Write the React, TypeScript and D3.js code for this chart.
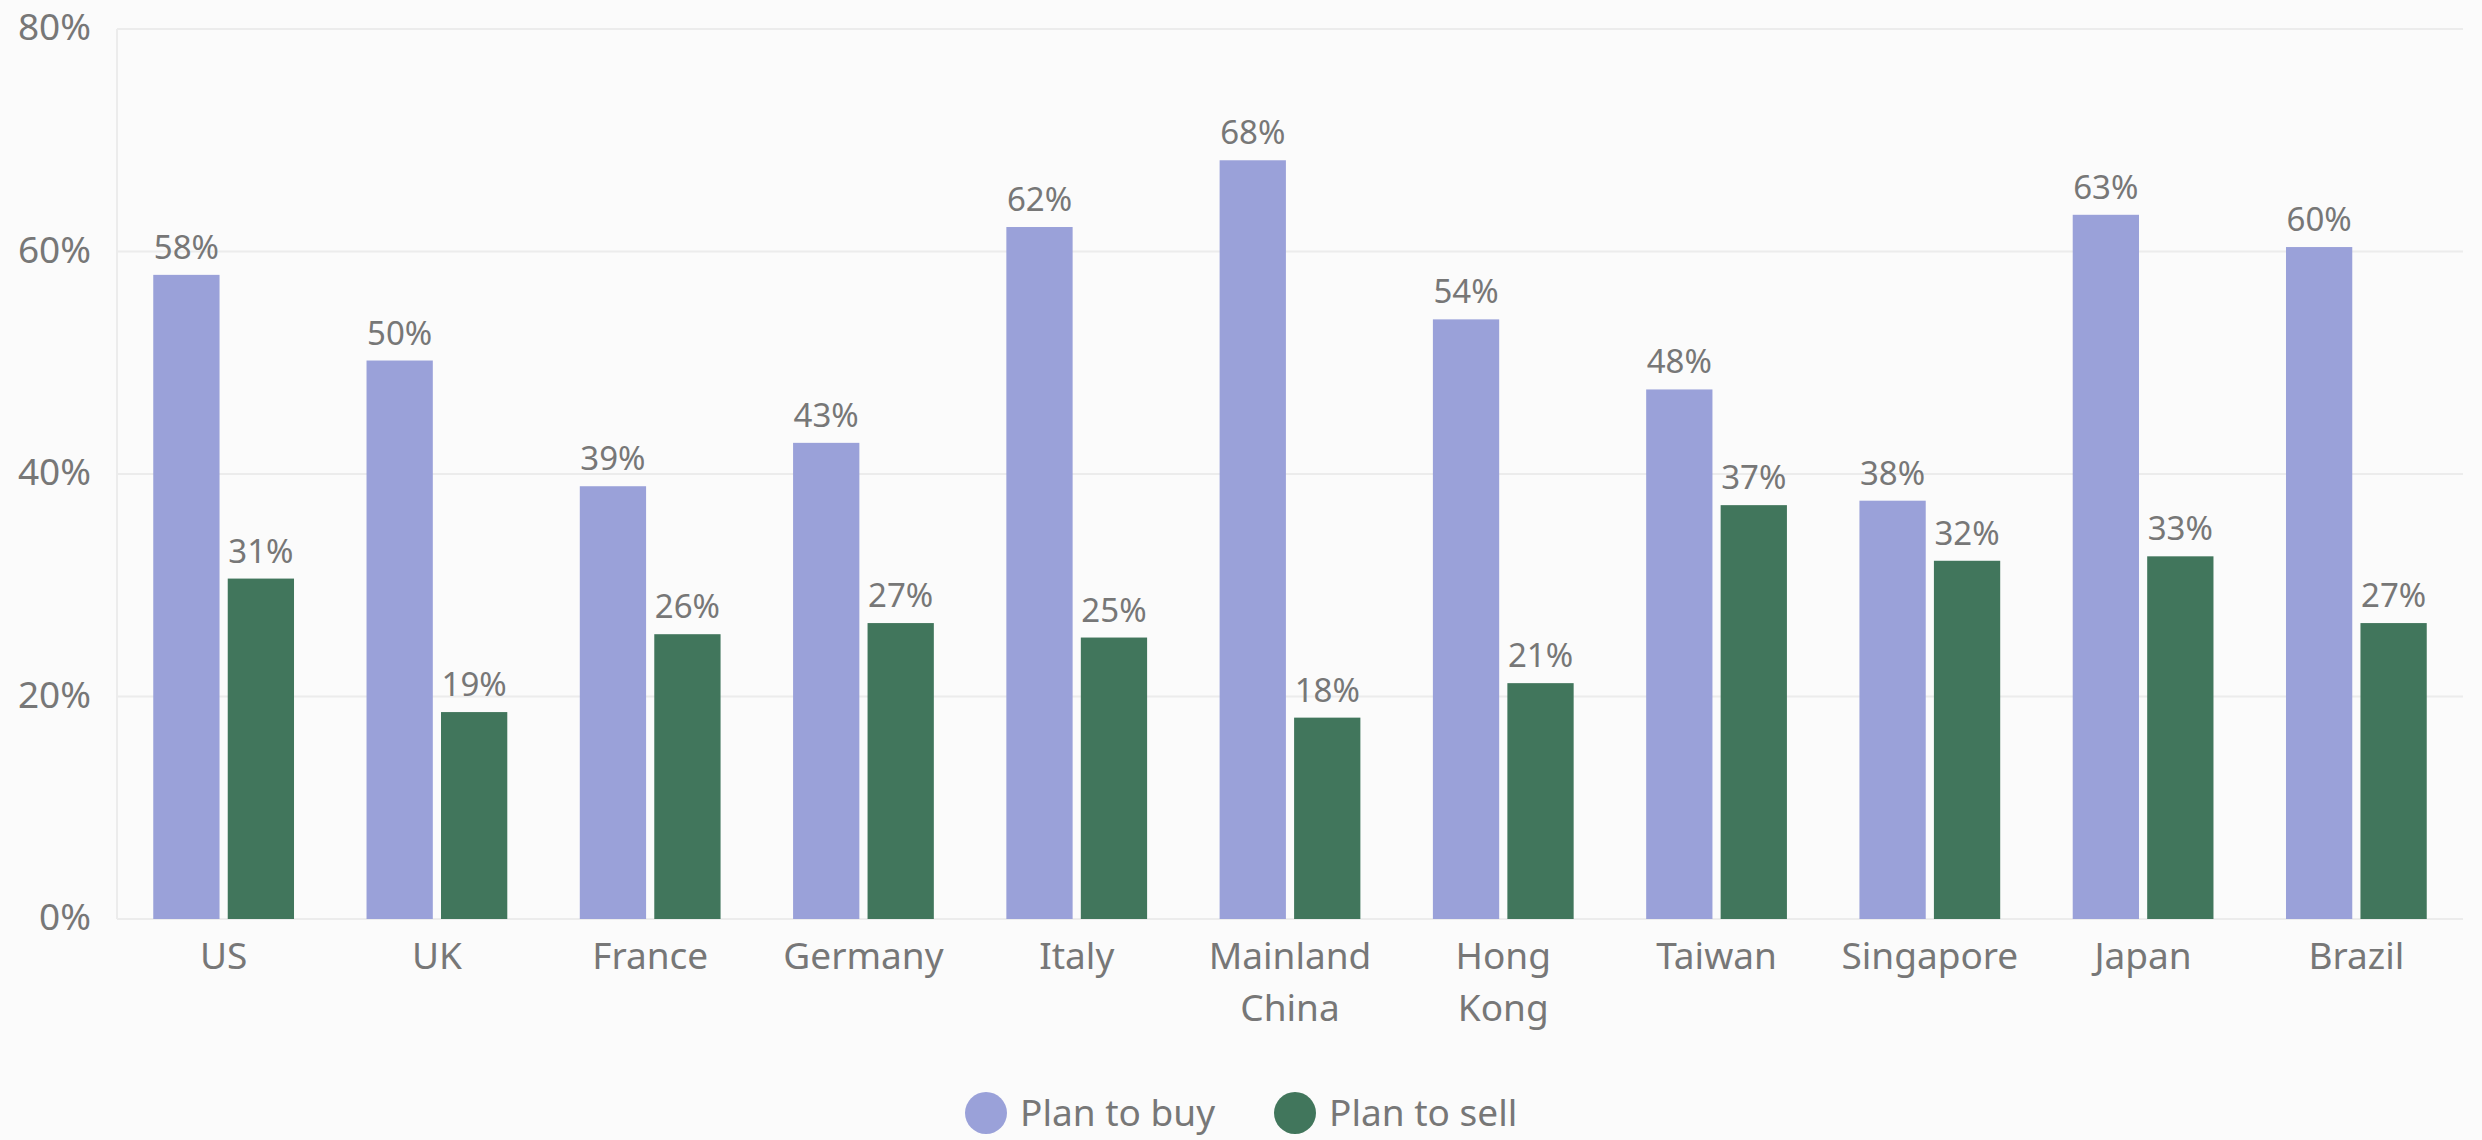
import React from "react";
import * as d3 from "d3";

const categories = ["US", "UK", "France", "Germany", "Italy", "Mainland China", "Hong Kong", "Taiwan", "Singapore", "Japan", "Brazil"];
const planToBuy = [57.9, 50.2, 38.9, 42.8, 62.2, 68.2, 53.9, 47.6, 37.6, 63.3, 60.4];
const planToSell = [30.6, 18.6, 25.6, 26.6, 25.3, 18.1, 21.2, 37.2, 32.2, 32.6, 26.6];
const seriesNames = ["Plan to buy", "Plan to sell"];
const seriesColors = ["#9aa1d9", "#41765c"];
const yTicks = [0, 20, 40, 60, 80];

const W = 2482;
const H = 1140;
const FONT = "'Noto Sans', 'Open Sans', sans-serif";
const TEXT = "#777777";

export default function App() {
  const left = 117, right = 2463, top = 29, bottom = 919;
  const x = d3.scaleBand<string>().domain(categories).range([left, right]).paddingInner(0.34).paddingOuter(0.17);
  const xs = d3.scaleBand<string>().domain(seriesNames).range([0, x.bandwidth()]).paddingInner(0.11);
  const y = d3.scaleLinear().domain([0, 80]).range([bottom, top]);
  const series = [planToBuy, planToSell];

  return (
    <div style={{ position: "absolute", left: 0, top: 0, width: W, height: H, background: "#fbfbfb" }}>
      <svg width={W} height={H} style={{ display: "block", fontFamily: FONT }}>
        {yTicks.map((t) => (
          <g key={t}>
            <line x1={left} x2={right} y1={y(t)} y2={y(t)} stroke="#ececec" strokeWidth={2} />
            <text x={91} y={y(t) + 11} textAnchor="end" fontSize={37} fill={TEXT}>
              {t}%
            </text>
          </g>
        ))}
        <line x1={left} x2={left} y1={top} y2={bottom} stroke="#ececec" strokeWidth={2} />
        {categories.map((c, i) => (
          <g key={c} transform={`translate(${x(c)},0)`}>
            {series.map((s, j) => {
              const bx = xs(seriesNames[j])!;
              const v = s[i];
              return (
                <g key={j}>
                  <rect x={bx} y={y(v)} width={xs.bandwidth()} height={bottom - y(v)} fill={seriesColors[j]} />
                  <text x={bx + xs.bandwidth() / 2} y={y(v) - 16} textAnchor="middle" fontSize={33} fill={TEXT}>
                    {Math.round(v)}%
                  </text>
                </g>
              );
            })}
            {c.split(" ").map((w, k) => (
              <text key={k} x={x.bandwidth() / 2} y={969 + k * 52} textAnchor="middle" fontSize={37} fill={TEXT}>
                {w}
              </text>
            ))}
          </g>
        ))}
        {seriesNames.map((n, j) => {
          const cx = j === 0 ? 986 : 1295;
          return (
            <g key={n}>
              <circle cx={cx} cy={1113} r={21} fill={seriesColors[j]} />
              <text x={cx + 34} y={1126} fontSize={37} fill={TEXT}>
                {n}
              </text>
            </g>
          );
        })}
      </svg>
    </div>
  );
}
